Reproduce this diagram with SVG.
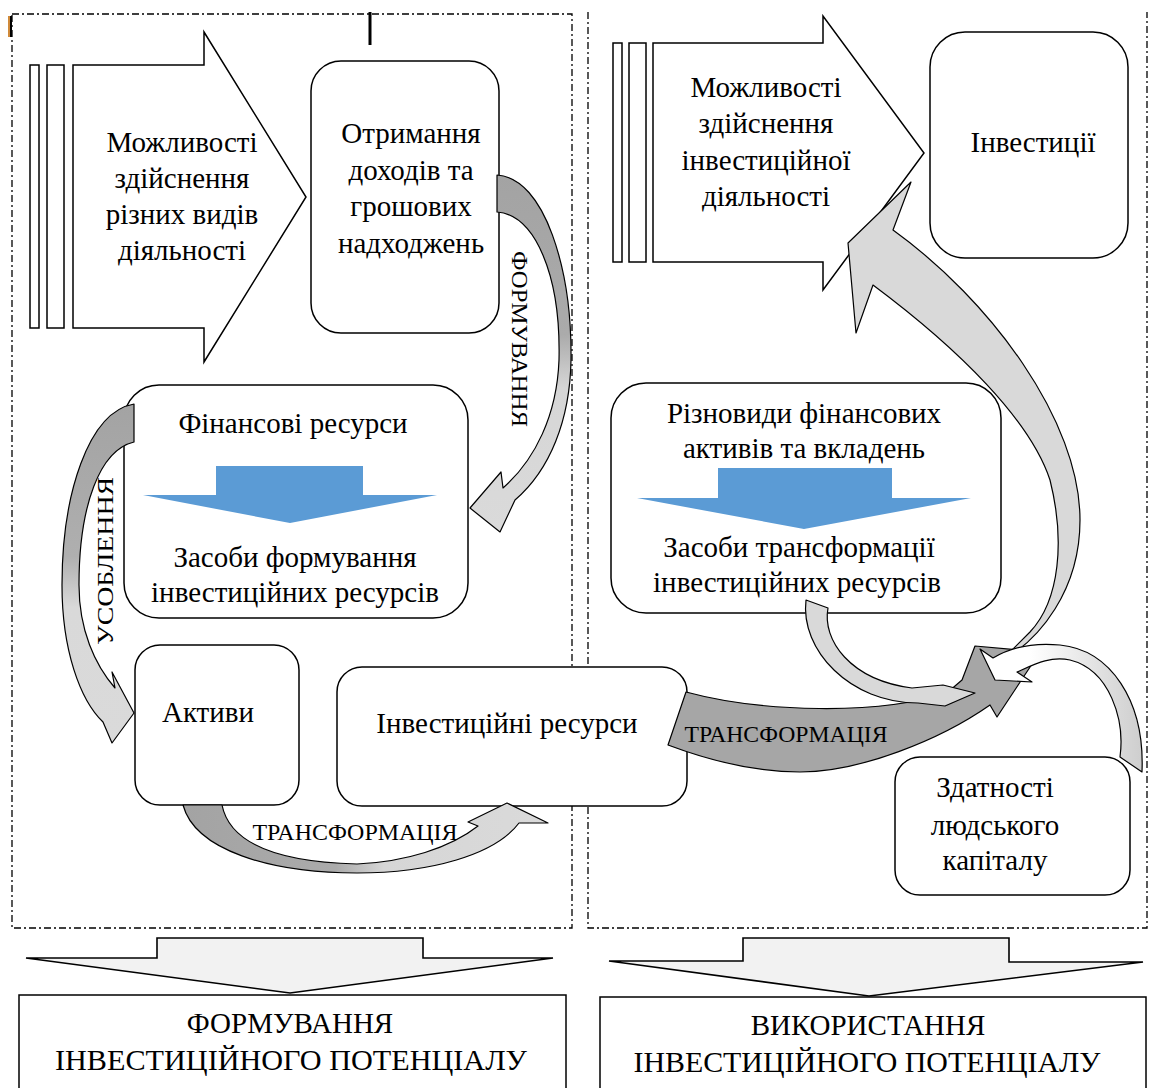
<svg xmlns="http://www.w3.org/2000/svg" width="1156" height="1088" viewBox="0 0 1156 1088">
<style>
.frame{fill:none;stroke:#000;stroke-width:1.3;stroke-dasharray:7 3 2 3}
.box{fill:#fff;stroke:#000;stroke-width:1.5}
.big{fill:#fff;stroke:#000;stroke-width:1.5}
.low{fill:#f2f2f2;stroke:#000;stroke-width:1.6}
.blue{fill:#5b9bd5}
.curv{stroke:#000;stroke-width:1.2;stroke-linejoin:round}
.t{font-family:"Liberation Serif","Times New Roman",serif;font-size:29px;fill:#000;text-anchor:middle}
.lbl{font-family:"Liberation Serif","Times New Roman",serif;font-size:24px;fill:#000;text-anchor:middle}
.cap{font-family:"Liberation Serif","Times New Roman",serif;font-size:29px;fill:#000;text-anchor:middle}
</style>
<defs>
<linearGradient id="gF" gradientUnits="userSpaceOnUse" x1="0" y1="175" x2="0" y2="530">
<stop offset="0" stop-color="#a3a3a3"/><stop offset="0.45" stop-color="#ababab"/><stop offset="0.6" stop-color="#d6d6d6"/><stop offset="1" stop-color="#dadada"/>
</linearGradient>
<linearGradient id="gU" gradientUnits="userSpaceOnUse" x1="0" y1="404" x2="0" y2="743">
<stop offset="0" stop-color="#a3a3a3"/><stop offset="0.45" stop-color="#afafaf"/><stop offset="0.6" stop-color="#d9d9d9"/><stop offset="1" stop-color="#dadada"/>
</linearGradient>
<linearGradient id="gT" gradientUnits="userSpaceOnUse" x1="183" y1="0" x2="548" y2="0">
<stop offset="0" stop-color="#a3a3a3"/><stop offset="0.42" stop-color="#ababab"/><stop offset="0.55" stop-color="#d6d6d6"/><stop offset="1" stop-color="#dadada"/>
</linearGradient>
<linearGradient id="gD" gradientUnits="userSpaceOnUse" x1="1140" y1="0" x2="1030" y2="0">
<stop offset="0" stop-color="#cfcfcf"/><stop offset="1" stop-color="#ffffff"/>
</linearGradient>
</defs>
<rect width="1156" height="1088" fill="#fff"/>

<g id="frames">
<rect class="frame" x="12" y="14" width="560" height="914"/>
<path class="frame" d="M588 12 V928 H1147 V12"/>
<line x1="370" y1="12" x2="370" y2="45" stroke="#000" stroke-width="3"/>
<line x1="9" y1="16" x2="9" y2="37" stroke="#d08a3a" stroke-width="2"/>
<line x1="11" y1="16" x2="11" y2="37" stroke="#000" stroke-width="2"/>
</g>

<g id="opp-left">
<rect class="big" x="30" y="65" width="9" height="263"/>
<rect class="big" x="47" y="65" width="17" height="263"/>
<path class="big" d="M73 65 H204 V32 L306 197 L204 362 V328 H73 Z"/>
<text class="t" x="182" y="152">Можливості</text>
<text class="t" x="182" y="188">здійснення</text>
<text class="t" x="182" y="224">різних видів</text>
<text class="t" x="182" y="260">діяльності</text>
</g>

<g id="income">
<rect class="box" x="311" y="61" width="188" height="272" rx="30"/>
<text class="t" x="411" y="143">Отримання</text>
<text class="t" x="411" y="180">доходів та</text>
<text class="t" x="411" y="216">грошових</text>
<text class="t" x="411" y="253">надходжень</text>
</g>

<g id="fin-res">
<rect class="box" x="124" y="385" width="344" height="233" rx="35"/>
<text class="t" x="293" y="433">Фінансові ресурси</text>
<path class="blue" d="M216 466 H363 V495 H437 L290 523 L143 495 H216 Z"/>
<text class="t" x="295" y="567">Засоби формування</text>
<text class="t" x="295" y="602">інвестиційних ресурсів</text>
</g>

<g id="assets">
<rect class="box" x="135" y="645" width="164" height="160" rx="25"/>
<text class="t" x="208" y="722">Активи</text>
</g>

<g id="inv-res">
<rect class="box" x="337" y="667" width="350" height="139" rx="25"/>
<text class="t" x="507" y="733">Інвестиційні ресурси</text>
</g>

<g id="opp-right">
<rect class="big" x="613" y="43" width="9" height="219"/>
<rect class="big" x="629" y="43" width="17" height="219"/>
<path class="big" d="M653 43 H823 V16 L924 153 L823 290 V262 H653 Z"/>
<text class="t" x="766" y="97">Можливості</text>
<text class="t" x="766" y="133">здійснення</text>
<text class="t" x="766" y="170">інвестиційної</text>
<text class="t" x="766" y="206">діяльності</text>
</g>

<g id="investments">
<rect class="box" x="930" y="32" width="198" height="226" rx="35"/>
<text class="t" x="1033" y="152">Інвестиції</text>
</g>

<g id="fin-assets">
<rect class="box" x="611" y="383" width="390" height="230" rx="35"/>
<text class="t" x="804" y="423">Різновиди фінансових</text>
<text class="t" x="804" y="458">активів та вкладень</text>
<path class="blue" d="M718 468 H892 V498 H971 L804 529 L637 498 H718 Z"/>
<text class="t" x="799" y="557">Засоби трансформації</text>
<text class="t" x="797" y="592">інвестиційних ресурсів</text>
</g>

<g id="human">
<rect class="box" x="895" y="757" width="235" height="138" rx="25"/>
<text class="t" x="995" y="797">Здатності</text>
<text class="t" x="995" y="835">людського</text>
<text class="t" x="995" y="870">капіталу</text>
</g>

<g id="connectors">
<path class="curv" fill="url(#gF)" d="M497 175 C545 178 572 270 571 360 C570 420 550 470 515 500 L500 532 L470 508 L501 472 L503 488 C535 460 557 415 559 360 C561 275 535 215 497 212 Z"/>
<text class="lbl" transform="translate(512 339) rotate(90)" textLength="176" lengthAdjust="spacingAndGlyphs">ФОРМУВАННЯ</text>

<path class="curv" fill="url(#gU)" d="M134 404 C88 412 62 495 62 585 C62 650 80 700 103 722 L112 743 L134 713 L112 672 L115 688 C95 665 79 630 79 585 C79 505 100 450 134 442 Z"/>
<text class="lbl" transform="translate(113 561) rotate(-90)" textLength="168" lengthAdjust="spacingAndGlyphs">УСОБЛЕННЯ</text>

<path class="curv" fill="url(#gT)" d="M183 805 C195 850 270 873 357 873 C430 873 495 855 519 823 L548 823 L507 803 L468 822 L478 826 C450 848 405 862 357 864 C280 862 230 845 222 805 Z"/>
<text class="lbl" x="355" y="840" textLength="205" lengthAdjust="spacingAndGlyphs">ТРАНСФОРМАЦІЯ</text>

<path class="curv" fill="#d9d9d9" d="M1000 662 C1040 640 1080 590 1080 520 C1080 420 990 300 893 230 L911 182 L848 243 L856 333 L873 285 C960 350 1030 420 1050 480 C1065 540 1060 600 1030 632 Z"/>

<path class="curv" fill="#a6a6a6" d="M686 692 C760 712 880 716 948 692 L962 680 L975 646 L1040 652 L997 717 L990 705 C940 740 860 772 800 772 C750 772 700 757 668 745 Z"/>
<text class="lbl" x="786" y="742" textLength="203" lengthAdjust="spacingAndGlyphs">ТРАНСФОРМАЦІЯ</text>

<path class="curv" fill="#d9d9d9" d="M806 600 L828 608 C822 640 850 680 912 688 L943 685 L975 693 L945 706 L918 703 C850 703 800 650 806 600 Z"/>

<path class="curv" fill="url(#gD)" d="M1120 757 C1125 720 1110 670 1070 660 C1050 656 1035 664 1017 672 L1032 682 L995 680 L980 649 L993 658 C1010 648 1030 642 1060 645 C1110 650 1145 700 1142 772 Z"/>
</g>

<g id="formation">
<path class="low" d="M157 938 H423 V958 H553 L290 993 L26 958 H157 Z"/>
<rect class="box" x="19" y="995" width="547" height="110"/>
<text class="cap" x="290" y="1033">ФОРМУВАННЯ</text>
<text class="cap" x="291" y="1070" textLength="472" lengthAdjust="spacingAndGlyphs">ІНВЕСТИЦІЙНОГО ПОТЕНЦІАЛУ</text>
</g>

<g id="usage">
<path class="low" d="M743 938 H1009 V962 H1143 L869 996 L609 961 H743 Z"/>
<rect class="box" x="600" y="997" width="546" height="110"/>
<text class="cap" x="868" y="1035">ВИКОРИСТАННЯ</text>
<text class="cap" x="867" y="1072" textLength="467" lengthAdjust="spacingAndGlyphs">ІНВЕСТИЦІЙНОГО ПОТЕНЦІАЛУ</text>
</g>
</svg>
